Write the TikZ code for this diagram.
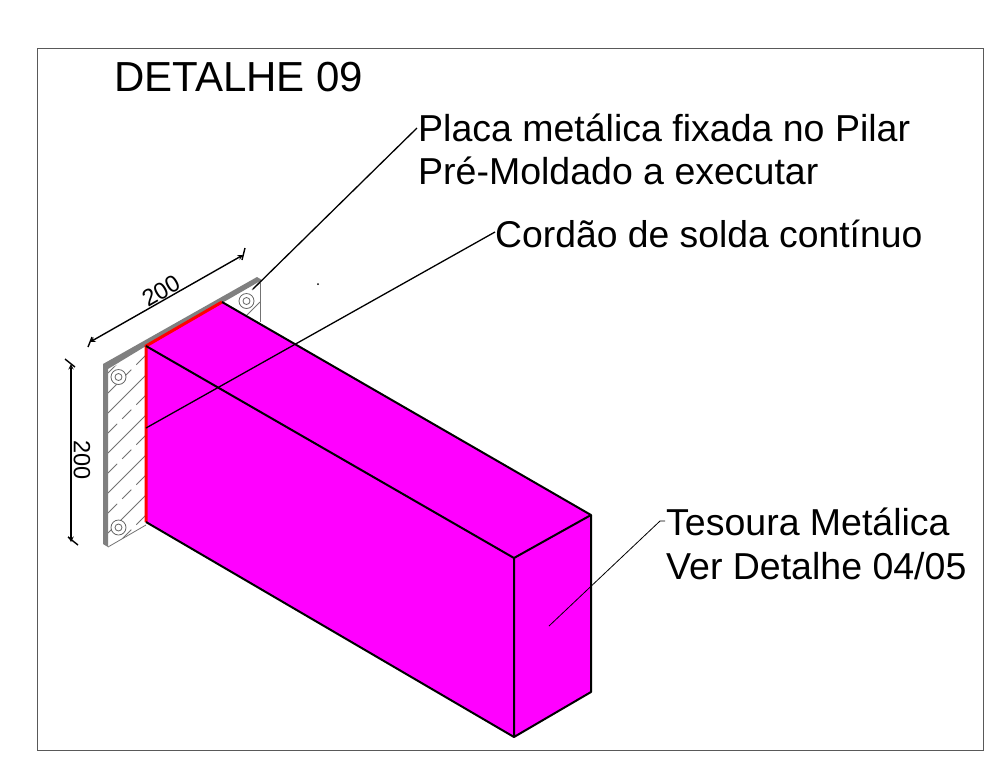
\documentclass[tikz,border=0pt]{standalone}
\usepackage{fontspec}
\setmainfont{Liberation Sans}
\newcommand{\fs}[1]{\fontsize{#1}{#1}\selectfont}
\definecolor{boxfill}{RGB}{255,0,255}
\tikzset{x=1pt,y=-1pt,
 lbl/.style={inner sep=0pt,anchor=base west,font=\fs{37.5}},
 edgeline/.style={draw=black,line width=2pt,line join=round},
 leader/.style={draw=black,line width=1.3pt},
 dim/.style={draw=black,line width=1.4pt},
 hatch/.style={draw=black!55,line width=0.8pt},
 hatchdash/.style={draw=black!55,line width=0.8pt,dash pattern=on 13pt off 7pt},
 bolt/.style={draw=black!60,line width=0.8pt,fill=white}}
\begin{document}
\begin{tikzpicture}
\useasboundingbox (0,0) rectangle (988,764);
\fill[white] (0,0) rectangle (988,764);
\draw[black!65,line width=1pt] (37.5,48.5) rectangle (983.5,750.5);
% plate
\begin{scope}
\clip (108,370) -- (262,281) -- (262,330) -- (146,525) -- (108,547) -- cycle;
\foreach \s in {481,521,561,601,641}{\draw[hatch] (108,\s-108) -- (146,\s-146);}
\foreach \s in {501,541,581,621,661}{\draw[hatchdash] (108,\s-108) -- (146,\s-146);}
\draw[hatch] (247,315) -- (260,302);
\draw[hatch] (252,290) -- (260,282);
\end{scope}
\draw[hatch] (108,547) -- (146,525);
\draw[hatch] (260,283) -- (260,322);
\coordinate (boltA) at (118.5,377);
\coordinate (boltB) at (118.5,527.5);
\coordinate (boltC) at (246.5,301);
\foreach \c in {boltA,boltB,boltC}{\draw[bolt] (\c) circle (7.5pt); \draw[bolt] (\c) circle (3.5pt);}
\fill[black!50] (103,364) -- (257,277) -- (262,280) -- (222,303) -- (146,346) -- (108,369) -- (108,547) -- (103,544) -- cycle;
% box
\coordinate (A) at (146,346);
\coordinate (B) at (222,302);
\coordinate (C) at (591,515);
\coordinate (D) at (514,558);
\coordinate (E) at (146,522);
\coordinate (F) at (514,737);
\coordinate (G) at (591,692);
\fill[boxfill] (A) -- (B) -- (C) -- (G) -- (F) -- (E) -- cycle;
\draw[red,line width=3pt] (E) -- (A) -- (B);
\draw[edgeline] (A) -- (D) -- (C) -- (B);
\draw[edgeline] (D) -- (F) -- (G) -- (C);
\draw[edgeline] (E) -- (F);
% dimensions
\coordinate (d1a) at (90,342);
\coordinate (d1b) at (243,255);
\draw[dim,<->,>=stealth] (d1a) -- (d1b);
\draw[dim] (88,347) -- (92,337);
\draw[dim] (242,260) -- (245,248);
\coordinate (d2a) at (71,364);
\coordinate (d2b) at (71,542);
\draw[dim,<->,>=stealth] (d2a) -- (d2b);
\draw[dim] (65,359) -- (75,367);
\draw[dim] (68,537) -- (78,545);
\node[inner sep=0pt,rotate=30,font=\fs{23.5}] (dimtop) at (161,291) {200};
\node[inner sep=0pt,rotate=-90,font=\fs{23.5}] (dimleft) at (82,460) {200};
% labels
\node[lbl,font=\fs{42}] (title) at (114,91) {DETALHE 09};
\node[lbl] (placa) at (418,141) {Placa metálica fixada no Pilar};
\node[lbl] (pre) at (418,184) {Pré-Moldado a executar};
\node[lbl,font=\fs{37.3}] (cordao) at (495,247) {Cordão de solda contínuo};
\node[lbl] (tes) at (666,535) {Tesoura Metálica};
\node[lbl] (ver) at (666,579) {Ver Detalhe 04/05};
% leaders
\coordinate (p1) at (253,289);
\coordinate (p1end) at (417,128);
\coordinate (p2) at (146,428);
\coordinate (p2end) at (495,232);
\coordinate (p3) at (549,626);
\coordinate (p3bend) at (660,521);
\coordinate (p3end) at (665,521);
\draw[leader] (p1) -- (p1end);
\draw[leader] (p2) -- (p2end);
\draw[leader,line width=0.8pt] (p3) -- (p3bend) -- (p3end);
\fill[black] (318,284) circle (1pt);
\end{tikzpicture}
\end{document}
